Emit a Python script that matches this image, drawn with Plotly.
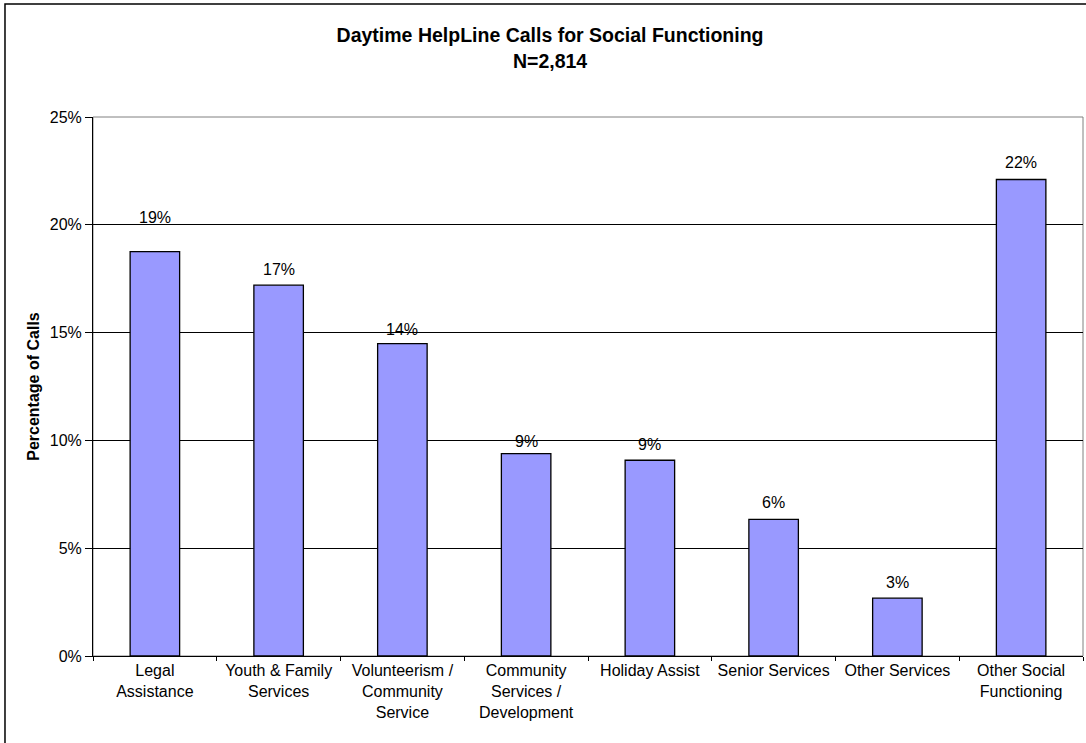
import plotly.graph_objects as go

# Share of daytime HelpLine calls by social-functioning category (percent)
categories = [
    "Legal<br>Assistance",
    "Youth & Family<br>Services",
    "Volunteerism /<br>Community<br>Service",
    "Community<br>Services /<br>Development",
    "Holiday Assist",
    "Senior Services",
    "Other Services",
    "Other Social<br>Functioning",
]
percent_of_calls = [18.76, 17.2, 14.49, 9.39, 9.08, 6.34, 2.68, 22.1]

y_ticks = [0, 5, 10, 15, 20, 25]
y_tick_text = ["0%", "5%", "10%", "15%", "20%", "25%"]

FONT = "Arial, Liberation Sans, sans-serif"

fig = go.Figure()
fig.add_trace(go.Bar(
    x=categories,
    y=percent_of_calls,
    marker=dict(color="#9999FF", line=dict(color="#000000", width=1.3)),
    width=0.4,
    hoverinfo="skip",
))

# value labels above each bar
label_shift = [34, 16, 14, 12, 16, 17, 16, 17]
for cat, val, shift in zip(categories, percent_of_calls, label_shift):
    fig.add_annotation(
        x=cat, y=val, text=f"{round(val)}%", showarrow=False,
        yanchor="middle", yshift=shift,
        font=dict(family=FONT, size=16, color="#000000"),
    )

# plot-area frame (grey) and outer chart frame (black)
fig.add_shape(type="rect", xref="paper", yref="paper", x0=0, x1=1, y0=0, y1=1,
              line=dict(color="#808080", width=1), layer="below")
fig.add_shape(type="rect", xref="paper", yref="paper",
              x0=-0.0889, x1=1.02, y0=-0.2, y1=1.2096,
              line=dict(color="#000000", width=1.5), layer="below")

fig.update_layout(
    width=1086, height=743,
    margin=dict(l=93, r=3, t=117, b=87),
    paper_bgcolor="#FFFFFF", plot_bgcolor="#FFFFFF",
    showlegend=False,
    font=dict(family=FONT, size=16, color="#000000"),
    title=dict(
        text="<b>Daytime HelpLine Calls for Social Functioning<br>N=2,814</b>",
        x=0.5065, xref="container", xanchor="center",
        y=0.943, yref="container", yanchor="top",
        font=dict(family=FONT, size=19.5, color="#000000"),
    ),
    xaxis=dict(
        type="category",
        showline=True, linecolor="#000000", linewidth=1,
        ticks="outside", ticklen=4, tickcolor="#000000", tickson="boundaries",
        showgrid=False, tickfont=dict(family=FONT, size=16),
    ),
    yaxis=dict(
        range=[0, 25], tickvals=y_ticks, ticktext=y_tick_text,
        showline=True, linecolor="#000000", linewidth=1,
        ticks="outside", ticklen=7, tickcolor="#000000",
        showgrid=True, gridcolor="#000000", gridwidth=1,
        zeroline=False, tickfont=dict(family=FONT, size=16),
        title=dict(text="<b>Percentage of Calls</b>", standoff=6,
                   font=dict(family=FONT, size=16)),
    ),
)

fig.write_html("out.html")
